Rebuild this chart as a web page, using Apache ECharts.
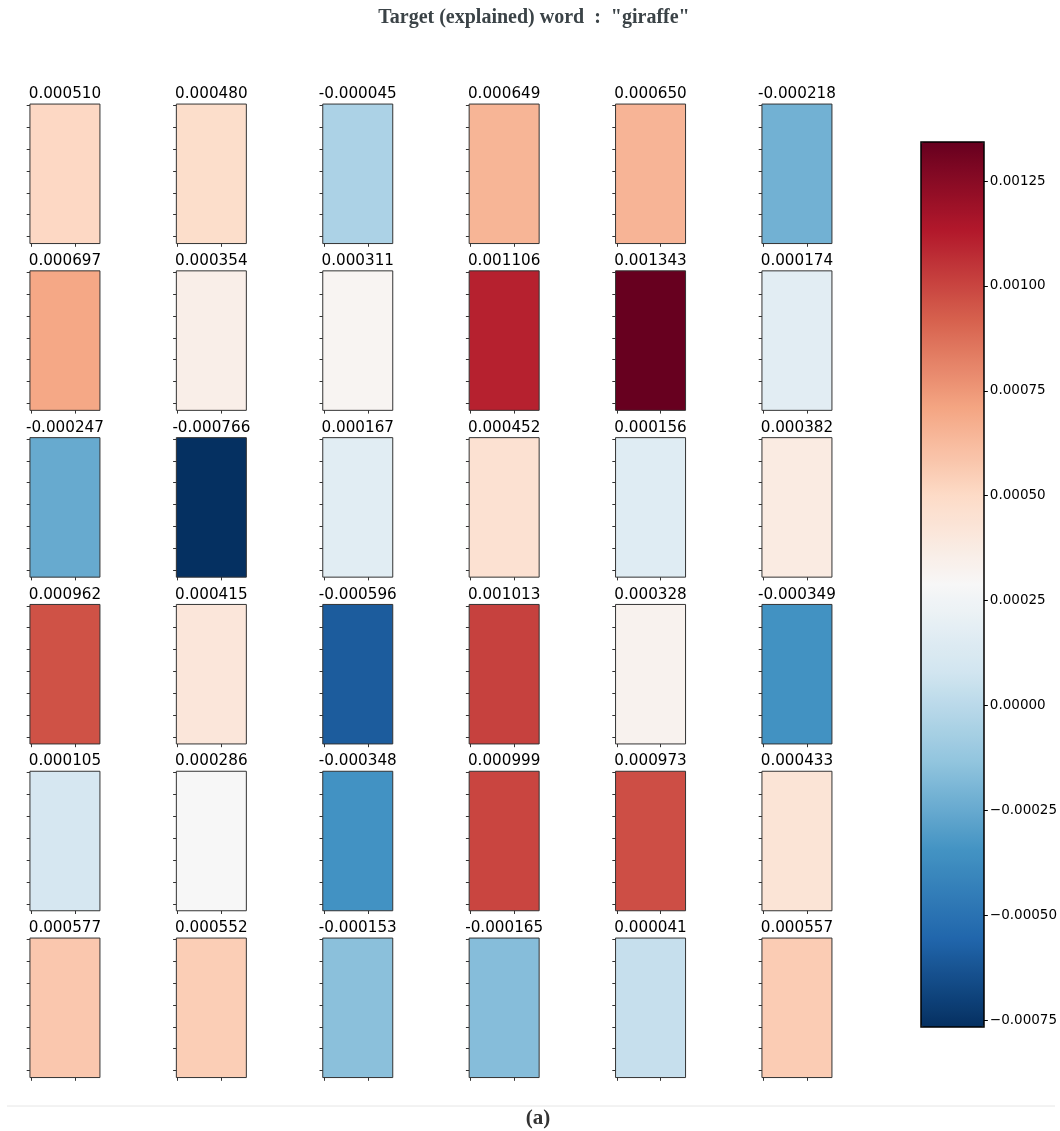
<!DOCTYPE html>
<html><head><meta charset="utf-8">
<script src="https://cdn.jsdelivr.net/npm/echarts@6/dist/echarts.min.js"></script>
<style>html,body{margin:0;padding:0;background:#fff}#chart{width:1060px;height:1131px}</style>
</head><body><div id="chart"></div>
<script>
// ---- data ----
const row1 = [0.000510, 0.000480, -0.000045, 0.000649, 0.000650, -0.000218];
const row2 = [0.000697, 0.000354, 0.000311, 0.001106, 0.001343, 0.000174];
const row3 = [-0.000247, -0.000766, 0.000167, 0.000452, 0.000156, 0.000382];
const row4 = [0.000962, 0.000415, -0.000596, 0.001013, 0.000328, -0.000349];
const row5 = [0.000105, 0.000286, -0.000348, 0.000999, 0.000973, 0.000433];
const row6 = [0.000577, 0.000552, -0.000153, -0.000165, 0.000041, 0.000557];
const rows = [row1, row2, row3, row4, row5, row6];
const colorbarTicks = [-0.00075, -0.0005, -0.00025, 0, 0.00025, 0.0005, 0.00075, 0.001, 0.00125];
const cellTicksY = [0, 1, 2, 3, 4, 5, 6];
const cellTicksX = [0, 2];
const titleText = 'Target (explained) word  :  "giraffe"';
const captionText = '(a)';

// ---- style / layout ----
const rdbuR = ['#053061','#2166ac','#4393c3','#92c5de','#d1e5f0','#f7f7f7','#fddbc7','#f4a582','#d6604d','#b2182b','#67001f'];
const L0 = 30.2, DX = 146.4, W = 69.5;
const T0 = 104.3, DY = 166.8, H = 139;
const U = 21.86; // px per tick unit
const CB = {left: 921, top: 142, width: 63, height: 885};

const all = rows.flat();
const vMin = Math.min(...all), vMax = Math.max(...all);

const grid = [], xAxis = [], yAxis = [], series = [], graphic = [];
rows.forEach((row, r) => {
  row.forEach((v, c) => {
    const i = r * 6 + c;
    const left = L0 + c * DX, top = T0 + r * DY;
    grid.push({left, top, width: W, height: H});
    xAxis.push({type: 'category', gridIndex: i, data: ['0'], show: false});
    xAxis.push({type: 'value', gridIndex: i, position: 'bottom', min: -0.05, max: W / U - 0.05,
      axisLine: {show: false, onZero: false}, axisLabel: {show: false}, splitLine: {show: false},
      axisTick: {show: true, customValues: cellTicksX, length: 3.5, lineStyle: {color: '#333', width: 1}}});
    yAxis.push({type: 'category', gridIndex: i, data: ['0'], show: false});
    yAxis.push({type: 'value', gridIndex: i, position: 'left', inverse: true, min: -0.05, max: H / U - 0.05,
      axisLine: {show: false, onZero: false}, axisLabel: {show: false}, splitLine: {show: false},
      axisTick: {show: true, customValues: cellTicksY, length: 3.5, lineStyle: {color: '#333', width: 1}}});
    series.push({type: 'heatmap', xAxisIndex: 2 * i, yAxisIndex: 2 * i, data: [[0, 0, v]],
      itemStyle: {borderColor: '#333', borderWidth: 1}, emphasis: {disabled: true}, silent: true});
    graphic.push({type: 'text', x: left + W / 2, y: top - 2.5,
      style: {text: v.toFixed(6), fontFamily: 'DejaVu Sans', fontSize: 15.2, fill: '#000',
        textAlign: 'center', textVerticalAlign: 'bottom'}});
  });
});

// colorbar axis
grid.push({left: CB.left, top: CB.top, width: CB.width, height: CB.height});
xAxis.push({type: 'value', gridIndex: 36, show: false});
yAxis.push({type: 'value', gridIndex: 36, position: 'right', min: vMin, max: vMax,
  axisLine: {show: false, onZero: false}, splitLine: {show: false},
  axisTick: {show: true, customValues: colorbarTicks, length: 4, lineStyle: {color: '#000', width: 1}},
  axisLabel: {show: true, customValues: colorbarTicks, margin: 6, fontFamily: 'DejaVu Sans', fontSize: 13.5, color: '#000',
    formatter: v => (v < 0 ? '\u2212' : '') + Math.abs(v).toFixed(5)}});

graphic.push({type: 'rect', z: 100, shape: {x: CB.left, y: CB.top, width: CB.width, height: CB.height},
  style: {fill: null, stroke: '#000', lineWidth: 1.5}});
graphic.push({type: 'text', x: 534, y: 18, style: {text: titleText, fontFamily: 'Liberation Serif', fontWeight: 'bold',
  fontSize: 20, fill: '#3b4347', textAlign: 'center', textVerticalAlign: 'middle'}});
graphic.push({type: 'line', shape: {x1: 7, y1: 1106, x2: 1055, y2: 1106}, style: {stroke: '#e6e6e6', lineWidth: 1}});
graphic.push({type: 'text', x: 538, y: 1119, style: {text: captionText, fontFamily: 'Liberation Serif', fontWeight: 'bold',
  fontSize: 21, fill: '#333', textAlign: 'center', textVerticalAlign: 'middle'}});

const chart = echarts.init(document.getElementById('chart'), null, {renderer: 'canvas'});
chart.setOption({
  animation: false,
  backgroundColor: '#fff',
  grid, xAxis, yAxis, series, graphic,
  visualMap: {type: 'continuous', min: vMin, max: vMax, dimension: 2, seriesIndex: series.map((_, k) => k),
    inRange: {color: rdbuR}, left: CB.left, top: CB.top, itemWidth: CB.width, itemHeight: CB.height,
    padding: 0, calculable: false, text: null, showLabel: false, hoverLink: false, orient: 'vertical'}
});
</script></body></html>
